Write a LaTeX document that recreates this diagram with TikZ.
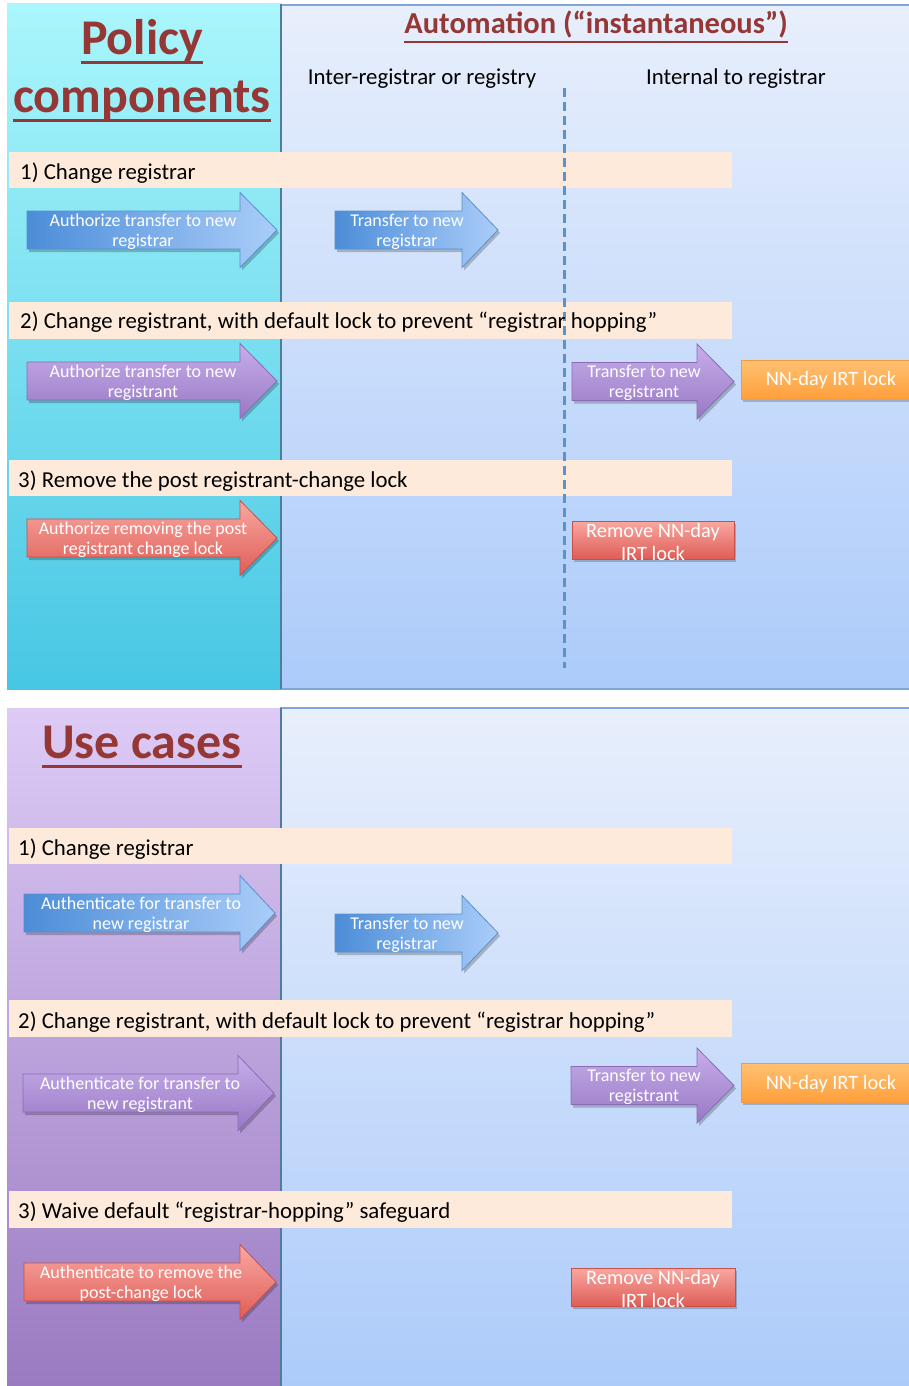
\documentclass[tikz,border=0pt]{standalone}
\usepackage{fontspec}
\setmainfont{Carlito}
\usetikzlibrary{calc}
\definecolor{titlered}{HTML}{953735}
\definecolor{peach}{HTML}{FDEADA}
\definecolor{cyanT}{HTML}{AAF6FC}
\definecolor{cyanB}{HTML}{47C7E4}
\definecolor{paneT}{HTML}{E8EFFC}
\definecolor{paneB}{HTML}{ACCBFA}
\definecolor{paneEdge}{HTML}{7FA6D4}
\definecolor{colEdge}{HTML}{4F7D9A}
\definecolor{purpT}{HTML}{DDCBF6}
\definecolor{purpB}{HTML}{9A7AC1}
\definecolor{bluL}{HTML}{4C8DD8}
\definecolor{bluR}{HTML}{AACDF9}
\definecolor{bluE}{HTML}{5A8FCB}
\definecolor{purT}{HTML}{C7AEEA}
\definecolor{purB}{HTML}{9878C5}
\definecolor{purE}{HTML}{8B6BB6}
\definecolor{redT}{HTML}{F9A8A1}
\definecolor{redB}{HTML}{DE5D56}
\definecolor{redE}{HTML}{C94F49}
\definecolor{oraT}{HTML}{FFC172}
\definecolor{oraB}{HTML}{FF9F3B}
\definecolor{oraE}{HTML}{F39A43}
\definecolor{dashC}{HTML}{5B92C8}
\tikzset{
  bluefill/.style={left color=bluL, right color=bluR, draw=bluE},
  purpfill/.style={top color=purT, bottom color=purB, draw=purE},
  redfill/.style={top color=redT, bottom color=redB, draw=redE},
  arrtext/.style={text=white, align=center, inner sep=0pt, font=\fontsize{18}{20}\selectfont},
  bandtext/.style={anchor=base west, inner sep=0pt, font=\fontsize{22.8}{26}\selectfont},
  coltext/.style={anchor=base, inner sep=0pt, font=\fontsize{22.8}{26}\selectfont},
  bigtitle/.style={anchor=base, inner sep=0pt, text=titlered, font=\fontsize{50}{60}\selectfont\bfseries},
  midtitle/.style={anchor=base, inner sep=0pt, text=titlered, font=\fontsize{30.5}{36}\selectfont\bfseries},
  band/.style={fill=peach},
  boxtext/.style={text=white, inner sep=0pt, align=center, font=\fontsize{20.4}{23}\selectfont},
  lockbox/.style={top color=oraT, bottom color=oraB, draw=oraE, line width=0.8pt},
  rembox/.style={top color=redT, bottom color=redB, draw=redE, line width=0.8pt},
}
% name, x1, x2, xtip, yc, style, textx, text
\newcommand\myblockarrow[8]{%
  \fill[black, opacity=0.22, shift={(2,3)}] (#2,#5-19) -- (#3,#5-19) -- (#3,#5-37.5) -- (#4,#5) -- (#3,#5+37.5) -- (#3,#5+19) -- (#2,#5+19) -- cycle;
  \path[#6, line width=0.8pt] (#2,#5-19) -- (#3,#5-19) -- (#3,#5-37.5) -- (#4,#5) -- (#3,#5+37.5) -- (#3,#5+19) -- (#2,#5+19) -- cycle;
  \node[arrtext] (#1) at (#7,#5+1.5) {#8};
}
\newcommand\myunderline[2]{%
  \draw[titlered, line width=#2] ($(#1.base west)+(0,8)$) -- ($(#1.base east)+(0,8)$);
}
\begin{document}
\begin{tikzpicture}[x=1pt,y=-1pt]
\useasboundingbox (0,0) rectangle (909,1386);
\fill[white] (0,0) rectangle (909,1386);

% ---------- top panel ----------
\path[top color=paneT, bottom color=paneB, draw=paneEdge, line width=1.2pt] (281,5) rectangle (912,689);
\path[top color=cyanT, bottom color=cyanB] (7,4) rectangle (281,689);
\draw[colEdge, line width=1.5pt] (281,4) -- (281,689);

\node[bigtitle] (pol) at (142,55) {Policy};
\myunderline{pol}{3pt}
\node[bigtitle] (comp) at (142,113) {components};
\myunderline{comp}{3pt}
\node[midtitle] (auto) at (596,34) {Automation (“instantaneous”)};
\myunderline{auto}{2.5pt}
\node[coltext] (inter) at (422,85) {Inter-registrar or registry};
\node[coltext] (intern) at (736,85) {Internal to registrar};

\fill[band] (9,152) rectangle (732,188);
\fill[band] (9,302) rectangle (732,339);
\fill[band] (9,460) rectangle (732,496);

\coordinate (dtop) at (564,88);
\coordinate (dbot) at (564,668);
\draw[dashC, line width=3pt, dash pattern=on 9pt off 5pt] (dtop) -- (dbot);

\node[bandtext] (t1) at (20,179) {1) Change registrar};
\node[bandtext] (t2) at (20,328) {2) Change registrant, with default lock to prevent “registrar hopping”};
\node[bandtext] (t3) at (18,487) {3) Remove the post registrant-change lock};

\myblockarrow{a1}{27}{240}{277}{230}{bluefill}{143}{Authorize transfer to new\\registrar}
\myblockarrow{a2}{335}{462}{498}{230}{bluefill}{407}{Transfer to new\\registrar}
\myblockarrow{a3}{27}{240}{277}{381}{purpfill}{143}{Authorize transfer to new\\registrant}
\myblockarrow{a4}{572}{697}{734}{381.5}{purpfill}{644}{Transfer to new\\registrant}
\myblockarrow{a5}{27}{240}{277}{538}{redfill}{143}{Authorize removing the post\\registrant change lock}

\fill[black, opacity=0.2] (743,363) rectangle (911,402);
\path[lockbox] (741,360) rectangle (912,399);
\node[boxtext] (lock1) at (831,380) {NN-day IRT lock};
\fill[black, opacity=0.2] (574,524) rectangle (736,562);
\path[rembox] (572,521) rectangle (734,559);
\node[boxtext] (rem1) at (653,542) {Remove NN-day\\IRT lock};

% ---------- bottom panel ----------
\path[top color=paneT, bottom color=paneB, draw=paneEdge, line width=1.2pt] (281,708) rectangle (912,1390);
\path[top color=purpT, bottom color=purpB] (7,708) rectangle (281,1386);
\draw[colEdge, line width=1.5pt] (281,708) -- (281,1386);

\node[bigtitle] (use) at (142,758) {Use cases};
\myunderline{use}{3pt}

\fill[band] (9,828) rectangle (732,864);
\fill[band] (9,1000) rectangle (732,1037);
\fill[band] (9,1191) rectangle (732,1228);

\node[bandtext] (u1) at (18,855) {1) Change registrar};
\node[bandtext] (u2) at (18,1028) {2) Change registrant, with default lock to prevent “registrar hopping”};
\node[bandtext] (u3) at (18,1218) {3) Waive default “registrar-hopping” safeguard};

\myblockarrow{b1}{24}{240}{275}{913}{bluefill}{141}{Authenticate for transfer to\\new registrar}
\myblockarrow{b2}{335}{462}{498}{933}{bluefill}{407}{Transfer to new\\registrar}
\myblockarrow{b3}{23}{238}{274}{1093}{purpfill}{140}{Authenticate for transfer to\\new registrant}
\myblockarrow{b4}{571}{697}{734}{1085.5}{purpfill}{644}{Transfer to new\\registrant}
\myblockarrow{b5}{24}{240}{276}{1282}{redfill}{141}{Authenticate to remove the\\post-change lock}

\fill[black, opacity=0.2] (743,1066) rectangle (911,1105);
\path[lockbox] (741,1063) rectangle (912,1102);
\node[boxtext] (lock2) at (831,1084) {NN-day IRT lock};
\fill[black, opacity=0.2] (573,1271) rectangle (737,1309);
\path[rembox] (571,1268) rectangle (735,1306);
\node[boxtext] (rem2) at (653,1289) {Remove NN-day\\IRT lock};
\end{tikzpicture}
\end{document}
